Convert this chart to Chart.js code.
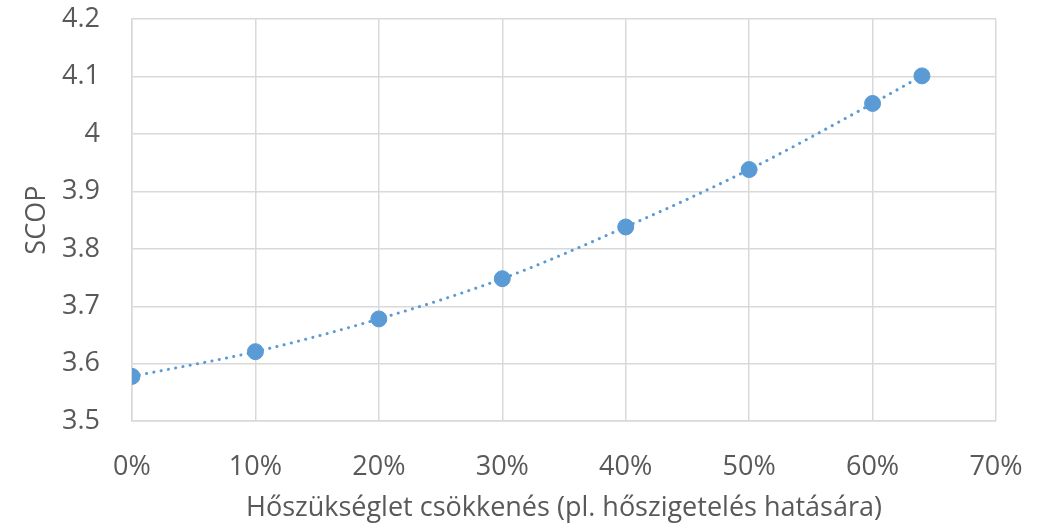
<!DOCTYPE html>
<html>
<head>
<meta charset="utf-8">
<script src="https://cdn.jsdelivr.net/npm/chart.js@4"></script>
<style>
  html, body { margin: 0; padding: 0; background: #fff; }
  #wrap { width: 1048px; height: 523px; }
</style>
</head>
<body>
<div id="wrap"><canvas id="c" width="1048" height="523"></canvas></div>
<script>
// heat demand reduction (%) and SCOP
const reduction = [0, 10, 20, 30, 40, 50, 60, 64];
const scop = [3.578, 3.621, 3.678, 3.748, 3.838, 3.938, 4.053, 4.101];
const xTicks = [0, 10, 20, 30, 40, 50, 60, 70];
const yTicks = [3.5, 3.6, 3.7, 3.8, 3.9, 4, 4.1, 4.2];

const blue = "#5b9bd5";
const textColor = "#595959";
const gridColor = "#d9d9d9";
const font = { family: "'Open Sans', sans-serif", size: 27 };

const pts = reduction.map((x, i) => ({ x: x, y: scop[i] }));

new Chart(document.getElementById("c").getContext("2d"), {
  type: "scatter",
  data: {
    datasets: [
      {
        label: "SCOP",
        data: pts,
        backgroundColor: blue,
        borderColor: blue,
        pointRadius: 8,
        pointHoverRadius: 8,
        order: 2
      },
      {
        // dotted trend through the same points
        label: "trend",
        data: pts,
        showLine: true,
        borderColor: blue,
        borderWidth: 3,
        borderDash: [0.1, 7.3],
        borderCapStyle: "round",
        tension: 0.4,
        cubicInterpolationMode: "monotone",
        pointRadius: 0,
        fill: false,
        order: 1
      }
    ]
  },
  options: {
    responsive: false,
    animation: false,
    layout: { padding: { top: 19, right: 52, left: 21, bottom: 0 } },
    plugins: { legend: { display: false }, tooltip: { enabled: false } },
    scales: {
      x: {
        type: "linear",
        min: 0,
        max: 70,
        afterBuildTicks: s => { s.ticks = xTicks.map(v => ({ value: v })); },
        ticks: { color: textColor, font: font, padding: 0, callback: v => v + "%" },
        grid: { color: gridColor, lineWidth: 1.5, drawTicks: true, tickLength: 30, tickColor: "rgba(0,0,0,0)" },
        border: { color: gridColor, width: 1.5 },
        title: {
          display: true,
          text: "Hőszükséglet csökkenés (pl. hőszigetelés hatására)",
          color: textColor,
          font: font,
          padding: { top: 9, bottom: -2 }
        }
      },
      y: {
        min: 3.5,
        max: 4.2,
        afterBuildTicks: s => { s.ticks = yTicks.map(v => ({ value: v })); },
        afterFit: s => { s.width = 111; },
        ticks: { color: textColor, font: font, padding: 0, callback: v => String(Math.round(v * 10) / 10) },
        grid: { color: gridColor, lineWidth: 1.5, drawTicks: true, tickLength: 32, tickColor: "rgba(0,0,0,0)" },
        border: { color: gridColor, width: 1.5 },
        title: {
          display: true,
          text: "SCOP",
          color: textColor,
          font: font,
          padding: { top: 0, bottom: 4 }
        }
      }
    }
  }
});
</script>
</body>
</html>
